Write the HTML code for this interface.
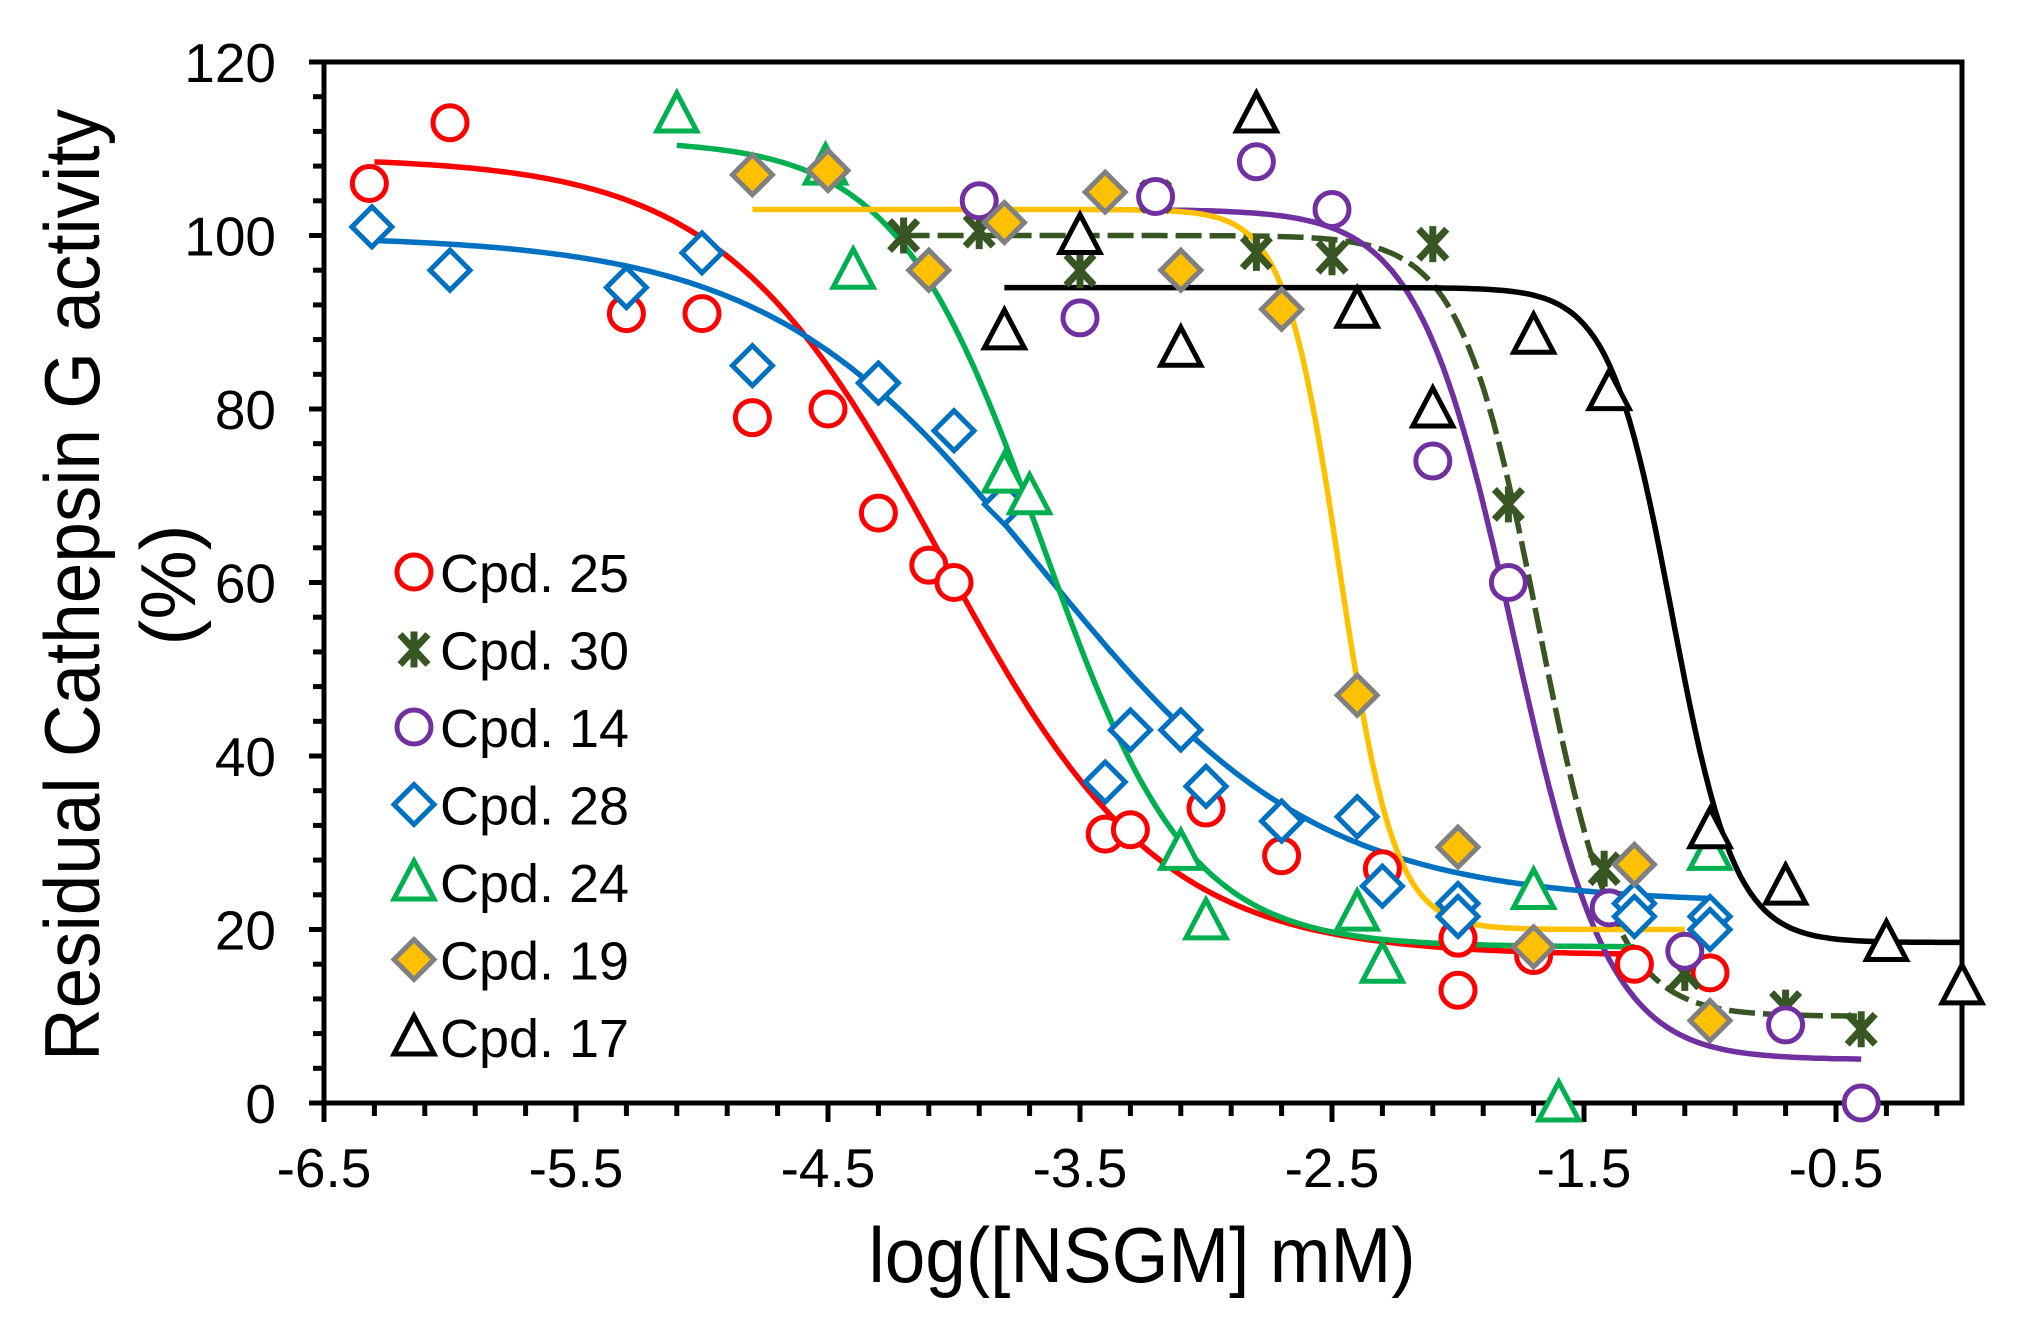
<!DOCTYPE html>
<html><head><meta charset="utf-8"><style>
html,body{margin:0;padding:0;background:#fff;}
svg{display:block;font-family:"Liberation Sans",Arial,sans-serif;}
</style></head><body>
<svg id="c" width="2017" height="1318" viewBox="0 0 2017 1318" xmlns="http://www.w3.org/2000/svg"></svg>
<script>
const S=document.getElementById('c');
function X(x){return 324+(x+6.5)*252;}function Y(y){return 1103-y*8.675;}
let h='';
h+=`<rect x="324" y="62" width="1638" height="1041" fill="none" stroke="#000" stroke-width="5"/>`;
for(let i=0;i<=30;i++){let y=Y(i*4);let major=i%5==0;h+=`<line x1="${major?309:313}" y1="${y}" x2="324" y2="${y}" stroke="#000" stroke-width="5"/>`;
 if(major)h+=`<text x="276" y="${y+20}" font-size="55" text-anchor="end">${i*4}</text>`;}
for(let k=0;k<=32;k++){let xv=-6.5+k*0.2;let x=X(xv);h+=`<line x1="${x}" y1="1103" x2="${x}" y2="${k%5==0?1122:1116}" stroke="#000" stroke-width="5"/>`;}
[-6.5,-5.5,-4.5,-3.5,-2.5,-1.5,-0.5].forEach(v=>{h+=`<text x="${X(v)}" y="1187" font-size="55" text-anchor="middle">${v}</text>`;});
h+=`<text x="1142" y="1282" font-size="78" text-anchor="middle" textLength="547" lengthAdjust="spacingAndGlyphs">log([NSGM] mM)</text>`;
h+=`<text transform="translate(99,585) rotate(-90)" font-size="78" text-anchor="middle" textLength="952" lengthAdjust="spacingAndGlyphs">Residual Cathepsin G activity</text>`;
h+=`<text transform="translate(195,585) rotate(-90)" font-size="78" text-anchor="middle">(%)</text>`;
function curve(top,bot,ic,hh,x0,x1,col,dash){let p='';for(let x=x0;x<=x1+1e-9;x+=0.02){let y=bot+(top-bot)/(1+Math.pow(10,(x-ic)*hh));p+=(p?'L':'M')+X(x).toFixed(1)+','+Y(y).toFixed(1);}
 return `<path d="${p}" fill="none" stroke="${col}" stroke-width="5.5" ${dash?'stroke-dasharray="26,8"':''}/>`;}
function mk(t,x,y,col,fill){let s='';
 if(t=='o')s=`<circle cx="${x}" cy="${y}" r="17" fill="#fff" stroke="${col}" stroke-width="5"/>`;
 if(t=='d')s=`<polygon points="${x},${y-20} ${x+20},${y} ${x},${y+20} ${x-20},${y}" fill="${fill||'#fff'}" stroke="${col}" stroke-width="5"/>`;
 if(t=='t')s=`<polygon points="${x},${y-21} ${x+20},${y+17} ${x-20},${y+17}" fill="#fff" stroke="${col}" stroke-width="5"/>`;
 if(t=='x'){s=`<g stroke="${col}" stroke-width="7"><line x1="${x-14}" y1="${y-15}" x2="${x+14}" y2="${y+15}"/><line x1="${x+14}" y1="${y-15}" x2="${x-14}" y2="${y+15}"/><line x1="${x}" y1="${y-18}" x2="${x}" y2="${y+18}"/></g>`;}
 return s;}
const series=[
{t:'o',c:'#FF0000',cv:[109,17,-4.05,1,-6.3,-1.3],d:[[-6.32,106],[-6,113],[-5.3,91],[-5,91],[-4.8,79],[-4.5,80],[-4.3,68],[-4.1,62],[-4,60],[-3.4,31],[-3.3,31.5],[-3,34],[-2.7,28.5],[-2.3,27],[-2,19],[-2,13],[-1.7,17],[-1.3,16],[-1,15]]},
{t:'x',c:'#375623',cv:[100,10,-1.68,2.8,-4.2,-0.4],dash:1,d:[[-4.2,100],[-3.9,100.5],[-3.5,96],[-3.2,104.5],[-2.8,98],[-2.5,97.5],[-2.1,99],[-1.8,69],[-1.42,27],[-1.1,15],[-0.7,11],[-0.4,8.5]]},
{t:'o',c:'#7030A0',cv:[103,5,-1.78,2.3,-3.2,-0.4],d:[[-3.9,104],[-3.5,90.5],[-3.2,104.5],[-2.8,108.5],[-2.5,103],[-2.1,74],[-1.8,60],[-1.4,22.5],[-1.1,17.5],[-0.7,9],[-0.4,0]]},
{t:'d',c:'#0070C0',cv:[100,23,-3.65,0.8,-6.3,-1],d:[[-6.31,101],[-6,96],[-5.3,94],[-5,98],[-4.8,85],[-4.3,83],[-4,77.5],[-3.8,69],[-3.4,37],[-3.3,43],[-3.1,43],[-3,36.5],[-2.7,32.5],[-2.4,33],[-2.3,25],[-2,23],[-2,21.5],[-1.3,23],[-1.3,21.5],[-1,21.5],[-1,20]]},
{t:'t',c:'#00B050',cv:[111,18,-3.65,1.5,-5.1,-1.3],d:[[-5.1,114],[-4.51,108],[-4.4,96],[-3.8,72.5],[-3.7,70],[-3.1,29],[-3,21],[-2.4,22],[-2.3,16],[-1.7,24.5],[-1.6,0],[-1,29]]},
{t:'d',c:'#808080',f:'#FFC000',cv:[103,20,-2.47,4,-4.8,-1.1],lc:'#FFC000',d:[[-4.8,107],[-4.5,107.5],[-4.1,96],[-3.8,101.5],[-3.4,105],[-3.1,96],[-2.7,91.5],[-2.4,47],[-2,29.5],[-1.7,18],[-1.3,27.5],[-1,9.5]]},
{t:'t',c:'#000',cv:[94,18.5,-1.15,3.5,-3.8,0],d:[[-3.8,89],[-3.5,100],[-3.1,87],[-2.8,114],[-2.4,91.5],[-2.1,80],[-1.7,88.5],[-1.4,82],[-1,31.5],[-0.7,25],[-0.3,18.5],[0,13.5]]}
];
const names=['Cpd. 25','Cpd. 30','Cpd. 14','Cpd. 28','Cpd. 24','Cpd. 19','Cpd. 17'];
let curves='',marks='';
series.forEach((s,i)=>{let v=s.cv;curves+=curve(v[0],v[1],v[2],v[3],v[4],v[5],s.lc||s.c,s.dash);
 s.d.forEach(p=>{marks+=mk(s.t,X(p[0]),Y(p[1]),s.c,s.f);});
 let ly=572+i*77.5;marks+=mk(s.t,414,ly,s.c,s.f);
 marks+=`<text x="440" y="${ly+20}" font-size="54" textLength="189" lengthAdjust="spacingAndGlyphs">${names[i]}</text>`;});
h+=curves+marks;
S.innerHTML=h;
</script>
</body></html>
